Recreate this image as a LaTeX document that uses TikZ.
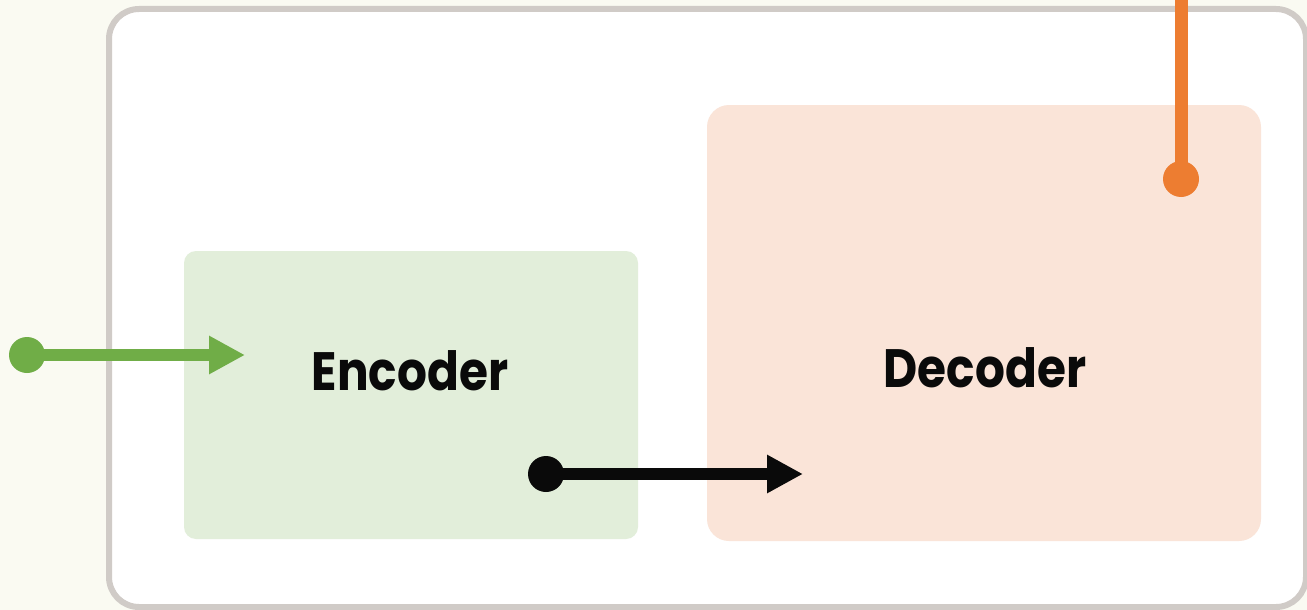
\documentclass[tikz,border=0pt]{standalone}
\usepackage{fontspec}
\setmainfont{Poppins}
\newfontfamily\labelfont{Poppins}[FakeStretch=0.87]
\usetikzlibrary{arrows.meta}
\definecolor{bgcream}{HTML}{FAFAF2}
\definecolor{framegray}{HTML}{D0CBC7}
\definecolor{encfill}{HTML}{E2EEDA}
\definecolor{decfill}{HTML}{FAE4D8}
\definecolor{greenline}{HTML}{70AD47}
\definecolor{orangeline}{HTML}{ED7D31}
\definecolor{inkblack}{HTML}{0A0A0A}
\tikzset{
  dotnode/.style={circle, fill=#1, minimum size=36pt, inner sep=0pt, draw=none},
  conn/.style={line width=12pt, draw=#1, -{Triangle[length=36pt,width=36pt]}},
  plainconn/.style={line width=13pt, draw=#1},
  lbl/.style={font=\labelfont\bfseries\fontsize{54}{64}\selectfont, text=inkblack, inner sep=0pt, anchor=base}
}
\begin{document}
\begin{tikzpicture}[x=1pt,y=-1pt]
\useasboundingbox (0,0) rectangle (1307,610);
\fill[bgcream] (0,0) rectangle (1307,610);
\begin{scope}
\clip (0,0) rectangle (1307,610);
\draw[framegray, line width=6pt, fill=white, rounded corners=30pt] (109,9) rectangle (1306,607);
\fill[encfill, rounded corners=12pt] (184,251) rectangle (638,539);
\fill[decfill, rounded corners=22pt] (707,105) rectangle (1261,541);
\node[lbl] (enc) at (410,390) {Encoder};
\node[lbl] (dec) at (985,387) {Decoder};
\coordinate (gtip) at (245,355);
\coordinate (btip) at (803,474);
\coordinate (otop) at (1181,-5);
\draw[plainconn=orangeline] (otop) -- (1181,179);
\node[dotnode=orangeline] (od) at (1181,179) {};
\node[dotnode=greenline] (gd) at (27,355) {};
\draw[conn=greenline] (gd.center) -- (gtip);
\node[dotnode=inkblack] (bd) at (546,474) {};
\draw[conn=inkblack] (bd.center) -- (btip);
\end{scope}
\end{tikzpicture}
\end{document}
